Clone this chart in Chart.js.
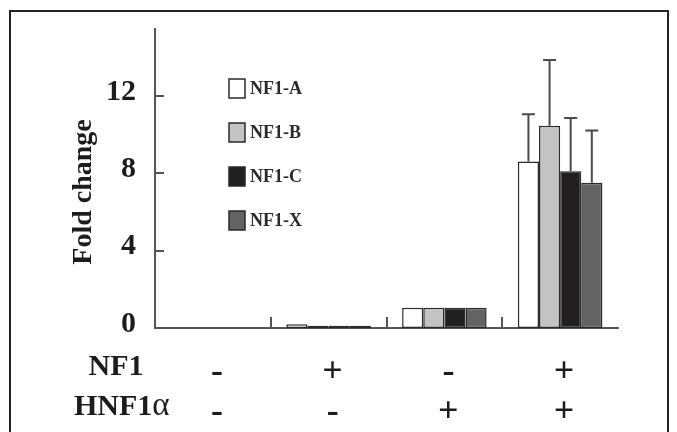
<!DOCTYPE html>
<html>
<head>
<meta charset="utf-8">
<script src="https://cdn.jsdelivr.net/npm/chart.js@4"></script>
<style>
  html, body { margin: 0; padding: 0; background: #fff; overflow: hidden; }
  #wrap { width: 677px; height: 432px; position: relative; }
</style>
</head>
<body>
<div id="wrap"><canvas id="myCanvas" width="677" height="432"></canvas></div>
<script>
// conditions under each group
const categories = ['1', '2', '3', '4'];
const nf1Row = ['-', '+', '-', '+'];
const hnfRow = ['-', '-', '+', '+'];

const seriesNames = ['NF1-A', 'NF1-B', 'NF1-C', 'NF1-X'];
const nf1A = [0, 0.2, 1.05, 8.6];
const nf1B = [0, 0.12, 1.05, 10.45];
const nf1C = [0, 0.12, 1.05, 8.1];
const nf1X = [0, 0.12, 1.05, 7.5];
// upper error bars
const errA = [0, 0, 0, 2.45];
const errB = [0, 0, 0, 3.4];
const errC = [0, 0, 0, 2.75];
const errX = [0, 0, 0, 2.7];

const yTicks = [0, 4, 8, 12];
const yMax = 15.45;

const serif = "'Liberation Serif', 'Times New Roman', serif";
const ink = '#1c1c1c';
const axisGrey = '#555555';

const barStyle = (fill) => ({
    backgroundColor: fill,
    borderColor: '#2a2a2a',
    borderWidth: 1.5,
    borderSkipped: false,
    barPercentage: 1,
    categoryPercentage: 0.73,
});

const data = {
    labels: categories,
    datasets: [
        { label: seriesNames[0], data: nf1A, err: errA, ...barStyle('#ffffff') },
        { label: seriesNames[1], data: nf1B, err: errB, ...barStyle('#c3c3c3') },
        { label: seriesNames[2], data: nf1C, err: errC, ...barStyle('#221f20') },
        { label: seriesNames[3], data: nf1X, err: errX, ...barStyle('#636363') },
    ]
};

// frame, inward ticks, error bars, legend, titles
const extras = {
    id: 'extras',
    beforeDraw(chart) {
        const c = chart.ctx;
        c.save();
        c.strokeStyle = '#222';
        c.lineWidth = 2;
        c.strokeRect(10, 11, 658, 460);
        c.restore();
    },
    afterDatasetsDraw(chart) {
        const c = chart.ctx;
        const y = chart.scales.y, x = chart.scales.x;
        c.save();
        // error bars
        c.strokeStyle = '#4a4a4a';
        c.lineWidth = 2;
        chart.data.datasets.forEach((ds, di) => {
            const meta = chart.getDatasetMeta(di);
            meta.data.forEach((bar, i) => {
                const e = ds.err[i];
                if (!e) return;
                const top = y.getPixelForValue(ds.data[i] + e);
                c.beginPath();
                c.moveTo(bar.x, bar.y);
                c.lineTo(bar.x, top);
                c.moveTo(bar.x - 6.5, top);
                c.lineTo(bar.x + 6.5, top);
                c.stroke();
            });
        });
        // inward ticks
        c.strokeStyle = axisGrey;
        c.lineWidth = 2;
        yTicks.forEach(v => {
            if (v === 0) return;
            const py = Math.round(y.getPixelForValue(v));
            c.beginPath();
            c.moveTo(chart.chartArea.left, py);
            c.lineTo(chart.chartArea.left + 9, py);
            c.stroke();
        });
        for (let i = 0; i < categories.length - 1; i++) {
            const px = Math.round((x.getPixelForValue(i) + x.getPixelForValue(i + 1)) / 2);
            c.beginPath();
            c.moveTo(px, chart.chartArea.bottom);
            c.lineTo(px, chart.chartArea.bottom - 11);
            c.stroke();
        }
        c.restore();
    },
    afterDraw(chart) {
        const c = chart.ctx;
        const area = chart.chartArea;
        c.save();
        c.fillStyle = ink;
        // legend
        c.textBaseline = 'middle';
        c.textAlign = 'left';
        c.font = 'bold 18px ' + serif;
        chart.data.datasets.forEach((ds, i) => {
            const bx = area.left + 74, by = area.top + 50 + i * 44;
            c.fillStyle = ds.backgroundColor;
            c.fillRect(bx, by, 16, 19);
            c.strokeStyle = '#2a2a2a';
            c.lineWidth = 1.5;
            c.strokeRect(bx, by, 16, 19);
            c.fillStyle = '#2a2a2a';
            c.fillText(ds.label, bx + 21, by + 10);
        });
        // y title
        c.fillStyle = ink;
        c.save();
        c.translate(84, 192);
        c.rotate(-Math.PI / 2);
        c.textAlign = 'center';
        c.font = 'bold 28px ' + serif;
        c.fillText('Fold change', 0, 0);
        c.restore();
        // row headers
        c.textAlign = 'center';
        c.font = 'bold 30px ' + serif;
        c.fillText('NF1', 116, 367);
        c.textAlign = 'left';
        c.fillText('HNF1', 74, 407);
        const w = c.measureText('HNF1').width;
        c.font = '33px ' + serif;
        c.fillText('\u03B1', 74 + w, 406);
        c.restore();
    }
};

const configurationOptions = {
    type: 'bar',
    data: data,
    plugins: [extras],
    options: {
        responsive: false,
        animation: false,
        layout: { padding: { top: 29, right: 59, left: 0, bottom: 0 } },
        plugins: {
            legend: { display: false },
            tooltip: { enabled: false },
        },
        scales: {
            x: {
                grid: { display: false },
                border: { display: true, color: axisGrey, width: 2 },
                afterFit: (s) => { s.height = 104; s.paddingLeft = 0; s.paddingRight = 0; },
                ticks: {
                    color: ink,
                    padding: 17,
                    labelOffset: 4,
                    maxRotation: 0,
                    autoSkip: false,
                    font: { family: serif, size: 36, weight: 'bold', lineHeight: 40 / 36 },
                    callback: (v, i) => [nf1Row[i], hnfRow[i]],
                },
            },
            y: {
                min: 0,
                max: yMax,
                grid: { display: false, drawTicks: false },
                border: { display: true, color: axisGrey, width: 2 },
                afterFit: (s) => { s.width = 155; s.paddingTop = 0; s.paddingBottom = 0; },
                afterBuildTicks: (s) => { s.ticks = yTicks.map(v => ({ value: v })); },
                ticks: {
                    color: ink,
                    padding: 19,
                    labelOffset: -4,
                    font: { family: serif, size: 30, weight: 'bold' },
                    callback: (v) => String(v),
                },
            },
        },
    },
};

const ctx = document.getElementById('myCanvas');
const myChart = new Chart(ctx, configurationOptions);
</script>
</body>
</html>
